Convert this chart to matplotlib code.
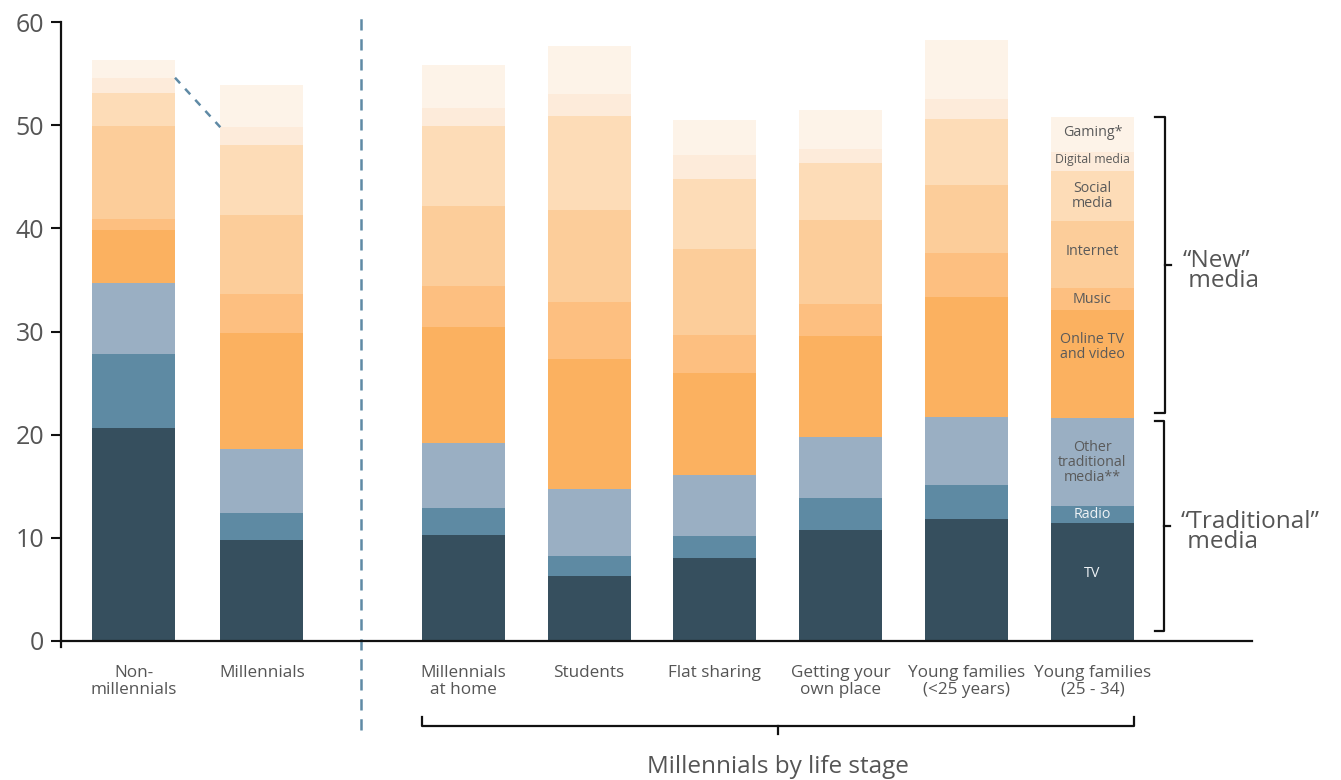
import matplotlib.pyplot as plt
import numpy as np

plt.rcParams['font.family'] = ['Open Sans', 'DejaVu Sans']

# 分組與媒體類別
groups = ['Non-\nmillennials', 'Millennials', 'Millennials\nat home', 'Students', 'Flat sharing',
          'Getting your\nown place', 'Young families\n(<25 years)', 'Young families\n(25 - 34)']
media = ['TV', 'Radio', 'Other\ntraditional\nmedia**', 'Online TV\nand video', 'Music',
         'Internet', 'Social\nmedia', 'Digital media', 'Gaming*']

# 每週使用時數（各媒體）
tv        = [20.6, 9.8, 10.3, 6.3, 8.0, 10.8, 11.8, 11.4]
radio     = [7.2, 2.6, 2.6, 1.9, 2.2, 3.1, 3.3, 1.7]
other_trad = [6.9, 6.2, 6.3, 6.5, 5.9, 5.9, 6.6, 8.5]
online_tv = [5.1, 11.3, 11.2, 12.6, 9.9, 9.8, 11.6, 10.5]
music     = [1.1, 3.7, 4.0, 5.6, 3.7, 3.1, 4.3, 2.1]
internet  = [9.0, 7.7, 7.8, 8.9, 8.3, 8.1, 6.6, 6.5]
social    = [3.2, 6.8, 7.7, 9.1, 6.8, 5.5, 6.4, 4.9]
digital   = [1.5, 1.7, 1.8, 2.1, 2.3, 1.4, 1.9, 1.8]
gaming    = [1.7, 4.1, 4.1, 4.7, 3.4, 3.8, 5.8, 3.4]

series = [tv, radio, other_trad, online_tv, music, internet, social, digital, gaming]
colors = ['#364f5e', '#5e8aa3', '#9aafc3', '#fbb160', '#fdbf80',
          '#fccd9a', '#fddcb7', '#fdebda', '#fdf3e8']
label_colors = ['#eef2f5', '#eef2f5'] + ['#5a5a5a'] * 7
label_sizes = [10.3, 10.3, 10.3, 10.3, 10.3, 10.3, 10.3, 8.8, 10.3]
label_dy = [0.85, 0, 0, 1.6, 0, 0.3, 0, 0.2, 0.2]

x = np.array([0, 1.02, 2.62, 3.62, 4.62, 5.62, 6.62, 7.62])
width = 0.66
text_gray = '#555555'

fig = plt.figure(figsize=(13.41, 7.8), dpi=100)
ax = fig.add_axes([61/1341, 139/780, 1191/1341, 619/780])

bottom = np.zeros(len(x))
bottoms = []
for vals, c in zip(series, colors):
    ax.bar(x, vals, width, bottom=bottom, color=c, linewidth=0)
    bottoms.append(bottom.copy())
    bottom = bottom + np.array(vals)
totals = bottom

# 最後一欄的分類標籤
for i, name in enumerate(media):
    yc = bottoms[i][-1] + series[i][-1] / 2 + label_dy[i]
    ax.text(x[-1], yc, name, ha='center', va='center', fontsize=label_sizes[i],
            color=label_colors[i], linespacing=1.0)

# 非千禧世代與千禧世代之間的虛線
dig_top = np.array(bottoms[7]) + np.array(digital)
ax.plot([x[0] + width/2, x[1] - width/2], [dig_top[0], dig_top[1]],
        color='#5f8aa5', lw=1.8, ls=(0, (3, 3)))

# 分隔線
sep = (x[1] + x[2]) / 2 - 0.01
ax.plot([sep, sep], [-8.6, 61.2], color='#5f8aa5', lw=1.8, ls=(0, (4.5, 3.5)), clip_on=False)

ax.set_xlim(-0.576, 8.888)
ax.set_ylim(0, 60)
ax.spines['top'].set_visible(False)
ax.spines['right'].set_visible(False)
for s in ['left', 'bottom']:
    ax.spines[s].set_linewidth(1.6)
    ax.spines[s].set_color('#111111')
ax.plot([-0.576, -0.576], [0, -0.6], color='#111111', lw=1.6, clip_on=False)

ax.set_yticks(range(0, 61, 10))
ax.tick_params(axis='y', length=7, width=1.5, color='#111111', labelsize=18,
               labelcolor=text_gray, pad=5)
ax.set_xticks(x, groups)
ax.tick_params(axis='x', length=0, labelsize=12.3, labelcolor=text_gray, pad=17)
for t in ax.get_xticklabels():
    t.set_linespacing(1.1)

# 生命階段括號
bk = dict(color='#111111', lw=1.6, clip_on=False)
xl, xr = x[2] - width/2, x[-1] + width/2
ax.plot([xl, xl, xr, xr], [-7.4, -8.25, -8.25, -7.4], **bk)
xm = (xl + xr) / 2
ax.plot([xm, xm], [-8.25, -9.0], **bk)
ax.text(xm, -12.2, 'Millennials by life stage', ha='center', va='center',
        fontsize=17.5, color=text_gray)

# 右側新舊媒體括號
trad_top = bottoms[3][-1]
bx = x[-1] + width/2 + 0.245
ex = 0.08
new_lo, new_hi = trad_top + 0.5, totals[-1]
ax.plot([bx - ex, bx, bx, bx - ex], [new_hi, new_hi, new_lo, new_lo], **bk)
ax.plot([bx, bx + 0.05], [(new_lo + new_hi) / 2] * 2, **bk)
tr_lo, tr_hi = 1.0, trad_top - 0.3
ax.plot([bx - ex, bx - 0.01, bx - 0.01, bx - ex], [tr_hi, tr_hi, tr_lo, tr_lo], **bk)
ax.plot([bx - 0.01, bx + 0.04], [(tr_lo + tr_hi) / 2] * 2, **bk)

ax.text(bx + 0.14, (new_lo + new_hi) / 2 - 0.6, '\u201cNew\u201d\n media', ha='left', va='center',
        fontsize=17.5, color=text_gray, linespacing=0.8)
ax.text(bx + 0.13, (tr_lo + tr_hi) / 2 - 0.6, '\u201cTraditional\u201d\n media', ha='left', va='center',
        fontsize=17.5, color=text_gray, linespacing=0.8)

fig.savefig('out.png', dpi=100)
